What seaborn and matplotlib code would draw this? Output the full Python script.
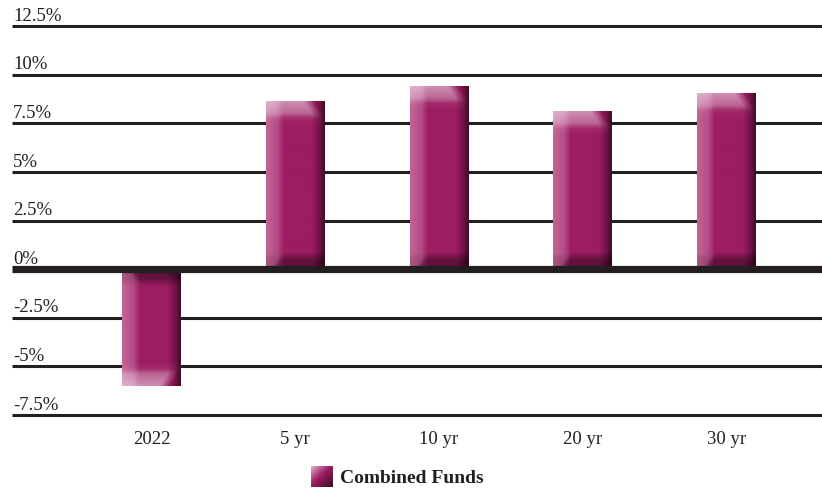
import numpy as np
import pandas as pd
import matplotlib
matplotlib.use("Agg")
import matplotlib.pyplot as plt
import matplotlib.transforms as mtransforms
import seaborn as sns

categories = ["2022", "5 yr", "10 yr", "20 yr", "30 yr"]
values = [-6.0, 8.6, 9.4, 8.1, 9.0]
tick_values = [-7.5, -5, -2.5, 0, 2.5, 5, 7.5, 10, 12.5]
tick_labels = ["-7.5%", "-5%", "-2.5%", "0%", "2.5%", "5%", "7.5%", "10%", "12.5%"]
legend_label = "Combined Funds"

sns.set_theme(style="white")
plt.rcParams["font.family"] = ["Liberation Serif", "DejaVu Serif"]

MAIN = np.array([0x9c, 0x1d, 0x62]) / 255.0
LINE = "#231f20"

fig = plt.figure(figsize=(8.22, 4.89), dpi=100)
ax = fig.add_axes([12 / 822, 1 - 416 / 489, 810 / 822, (416 - 27) / 489])

df = pd.DataFrame({"cat": categories, "val": values})
sns.barplot(data=df, x="cat", y="val", color=MAIN, width=0.41, ax=ax,
            saturation=1, zorder=2, linewidth=0, edgecolor="none")

ax.set_xlim(-0.97, 4.664)
ax.set_ylim(-7.5, 12.5)
for s in ax.spines.values():
    s.set_visible(False)

# gridlines
for v in tick_values:
    if v == 0:
        continue
    ax.axhline(v, color=LINE, lw=2.2, zorder=1, clip_on=False,
               solid_capstyle="butt")
ax.axhline(0, color=LINE, lw=5.2, zorder=4, clip_on=False, solid_capstyle="butt")

# y labels placed above gridlines
ax.set_yticks([])
trans = mtransforms.blended_transform_factory(ax.transAxes, ax.transData)
for v, lab in zip(tick_values, tick_labels):
    ax.text(0.0015, v + 0.12, lab, transform=trans, ha="left", va="bottom",
            fontsize=13.5, color=LINE)

ax.set_xlabel("")
ax.set_ylabel("")
ax.tick_params(axis="x", length=0, pad=11, labelsize=13.5, labelcolor=LINE)


def horiz_profile(n):
    xs = np.linspace(0, 1, n)
    stops = [0.0, 0.18, 0.3, 0.78, 0.9, 1.0]
    cols = np.array([
        [0xc0, 0x64, 0x95],
        [0xb6, 0x4e, 0x86],
        [0x9c, 0x1d, 0x62],
        [0x9c, 0x1d, 0x62],
        [0x78, 0x14, 0x4a],
        [0x45, 0x0c, 0x2a],
    ]) / 255.0
    out = np.zeros((n, 3))
    for c in range(3):
        out[:, c] = np.interp(xs, stops, cols[:, c])
    return out


def bar_image(h_px, w_px, positive):
    prof = horiz_profile(w_px)
    img = np.tile(prof[None, :, :], (h_px, 1, 1))
    rows = np.arange(h_px, dtype=float)[:, None]  # 0 = far end (cap)
    xs = np.linspace(0, 1, w_px)[None, :]
    cap = 16.0
    a = np.interp(rows, [0, cap * 0.7, cap * 1.05, cap * 1.5], [0.5, 0.33, 0.06, 0.0])
    xb = 0.82 + 0.18 * np.clip(rows / cap, 0, 1)
    a = a * np.clip((xb - xs) / 0.18, 0, 1) * np.ones_like(xs)
    img = img * (1 - a[..., None]) + a[..., None] * 1.0
    dist0 = (h_px - 1 - rows)
    band = 14.0
    d = np.interp(dist0, [0, band * 0.7, band * 1.2], [0.45, 0.33, 0.0])
    xl = 0.22 * np.clip(dist0 / band, 0, 1)
    d = d * np.clip((xs - xl) / 0.15, 0.35, 1)
    img = img * (1 - d[..., None])
    if not positive:
        img = img[::-1]
    return np.clip(img, 0, 1)


fig.canvas.draw()
for p in list(ax.patches):
    x0, y0 = p.get_x(), p.get_y()
    w, h = p.get_width(), p.get_height()
    ya, yb = sorted([y0, y0 + h])
    bb = p.get_window_extent()
    hp = max(int(round(bb.height)), 2)
    wp = max(int(round(bb.width)), 2)
    img = bar_image(hp, wp, h >= 0)
    ax.imshow(img, extent=(x0, x0 + w, ya, yb), origin="upper", aspect="auto",
              zorder=3, interpolation="bilinear")
ax.set_xlim(-0.97, 4.664)
ax.set_ylim(-7.5, 12.5)

# legend
lax = fig.add_axes([311 / 822, 1 - 488 / 489, 21 / 822, 21 / 489])
n = 40
yy, xx = np.mgrid[0:n, 0:n] / (n - 1)
t = (xx + yy) / 2
light = np.array([0xe2, 0xb0, 0xcc]) / 255.0
dark = np.array([0x3a, 0x0a, 0x22]) / 255.0
limg = np.zeros((n, n, 3))
cols = np.array([light, MAIN, dark])
for c in range(3):
    limg[..., c] = np.interp(t, [0.0, 0.45, 1.0], cols[:, c])
lax.imshow(limg, aspect="auto", interpolation="bilinear")
lax.axis("off")
fig.text(340 / 822, 1 - 479 / 489, legend_label, ha="left", va="center",
         fontsize=14, fontweight="bold", color=LINE)

fig.savefig("out.png", dpi=100)
